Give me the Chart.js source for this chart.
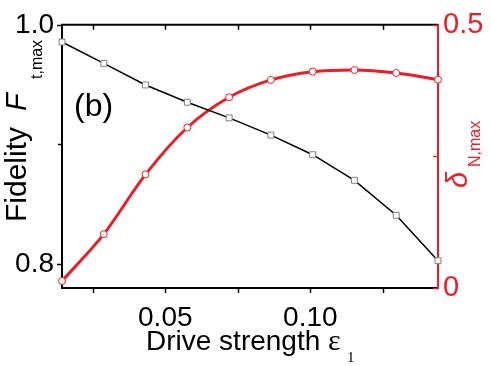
<!DOCTYPE html>
<html>
<head>
<meta charset="utf-8">
<script src="https://cdn.jsdelivr.net/npm/chart.js@4"></script>
<style>
  html, body { margin: 0; padding: 0; background: #fff; }
  #wrap { width: 491px; height: 366px; position: relative; }
</style>
</head>
<body>
<div id="wrap"><canvas id="chart"></canvas></div>
<script>
// data
const driveStrength = [0.0144, 0.0288, 0.0432, 0.0576, 0.0720, 0.0864, 0.1008, 0.1152, 0.1296, 0.1440];
const fidelity = [0.9856, 0.9678, 0.9497, 0.9353, 0.9222, 0.9078, 0.8914, 0.8700, 0.8408, 0.8028];
const deltaN = [0.0133, 0.1023, 0.2159, 0.3049, 0.3623, 0.3953, 0.4110, 0.4142, 0.4085, 0.3958];

// ticks
const xTicks = [0.05, 0.10];
const xTickLabels = ['0.05', '0.10'];
const xMinorTicks = [0.025, 0.075, 0.125];
const fTicks = [0.8, 1.0];
const fTickLabels = ['0.8', '1.0'];
const fMinorTicks = [0.9];
const dTicks = [0, 0.5];
const dTickLabels = ['0', '0.5'];
const dMinorTicks = [0.25];

const RED = '#ee1c24';
const SANS = '"Liberation Sans", Arial, sans-serif';
const SERIF = '"Liberation Serif", "Times New Roman", serif';

Chart.defaults.font.family = SANS;
Chart.defaults.color = '#000';

const toPoints = (ys) => driveStrength.map((x, i) => ({ x: x, y: ys[i] }));

// tick marks, top frame line, axis titles and panel label
const decorPlugin = {
  id: 'decor',
  afterDraw: (chart) => {
    const ctx = chart.ctx;
    const { left, right, top, bottom } = chart.chartArea;
    const sx = chart.scales.x, sy = chart.scales.y, sy2 = chart.scales.y2;
    ctx.save();

    // top frame
    ctx.strokeStyle = '#000';
    ctx.lineWidth = 2;
    ctx.beginPath();
    ctx.moveTo(left - 1, top);
    ctx.lineTo(right, top);
    ctx.stroke();

    ctx.lineWidth = 1.5;
    // x ticks: bottom outward, top inward
    xTicks.concat(xMinorTicks).forEach(v => {
      const px = Math.round(sx.getPixelForValue(v)) + 0.5;
      ctx.beginPath();
      ctx.moveTo(px, bottom);
      ctx.lineTo(px, bottom + 5);
      ctx.moveTo(px, top);
      ctx.lineTo(px, top + 5);
      ctx.stroke();
    });
    // left ticks outward
    fTicks.forEach(v => {
      const py = Math.round(sy.getPixelForValue(v)) + 0.5;
      ctx.beginPath();
      ctx.moveTo(left, py);
      ctx.lineTo(left - 5, py);
      ctx.stroke();
    });
    fMinorTicks.forEach(v => {
      const py = Math.round(sy.getPixelForValue(v)) + 0.5;
      ctx.beginPath();
      ctx.moveTo(left, py);
      ctx.lineTo(left - 4, py);
      ctx.stroke();
    });
    // right ticks inward, red
    ctx.strokeStyle = RED;
    dTicks.concat(dMinorTicks).forEach(v => {
      const py = Math.round(sy2.getPixelForValue(v)) + 0.5;
      ctx.beginPath();
      ctx.moveTo(right + 1, py);
      ctx.lineTo(right - 5, py);
      ctx.stroke();
    });

    ctx.textAlign = 'left';
    ctx.textBaseline = 'alphabetic';

    // left title, rotated
    ctx.fillStyle = '#000';
    ctx.save();
    ctx.translate(26, 222);
    ctx.rotate(-Math.PI / 2);
    ctx.font = '30px ' + SANS;
    ctx.fillText('Fidelity', 0, 0);
    ctx.font = 'italic 29px ' + SANS;
    ctx.fillText('F', 111, 0);
    ctx.font = '16px ' + SANS;
    ctx.fillText('t,max', 143, 16);
    ctx.restore();

    // right title, rotated
    ctx.fillStyle = RED;
    ctx.save();
    ctx.translate(467, 188);
    ctx.rotate(-Math.PI / 2);
    ctx.font = 'italic 29px ' + SANS;
    ctx.fillText('δ', 0, 0);
    ctx.font = '16px ' + SANS;
    ctx.fillText('N,max', 21, 13);
    ctx.restore();

    // bottom title
    ctx.fillStyle = '#000';
    ctx.font = '28px ' + SANS;
    ctx.fillText('Drive strength', 146, 350);
    ctx.font = '30px ' + SERIF;
    ctx.fillText('ε', 328, 350);
    ctx.font = '15px ' + SERIF;
    ctx.fillText('1', 347, 362);

    // panel label
    ctx.font = '32px ' + SANS;
    ctx.fillText('(b)', 74, 116);

    ctx.restore();
  }
};

new Chart(document.getElementById('chart'), {
  type: 'line',
  data: {
    datasets: [{
      data: toPoints(fidelity),
      yAxisID: 'y',
      borderColor: '#000',
      borderWidth: 1.5,
      pointStyle: 'rect',
      pointRadius: 4.2,
      pointBorderWidth: 1,
      pointBorderColor: '#808080',
      pointBackgroundColor: '#fff',
      tension: 0,
      clip: false
    }, {
      data: toPoints(deltaN),
      yAxisID: 'y2',
      borderColor: RED,
      borderWidth: 3,
      pointStyle: 'circle',
      pointRadius: 3.5,
      pointBorderWidth: 1,
      pointBorderColor: RED,
      pointBackgroundColor: '#fff',
      cubicInterpolationMode: 'monotone',
      clip: false
    }]
  },
  options: {
    responsive: true,
    maintainAspectRatio: false,
    animation: false,
    layout: { padding: { top: 24, left: 0, right: 0, bottom: 0 } },
    plugins: {
      legend: { display: false },
      tooltip: { enabled: false }
    },
    scales: {
      x: {
        type: 'linear',
        min: 0.0144,
        max: 0.1440,
        grid: { display: false, drawTicks: false },
        border: { display: true, color: '#000', width: 2 },
        afterBuildTicks: (scale) => { scale.ticks = xTicks.map(v => ({ value: v })); },
        afterFit: (scale) => { scale.height = 78; },
        ticks: {
          padding: 13,
          maxRotation: 0,
          autoSkip: false,
          font: { size: 28 },
          color: '#000',
          callback: (v) => xTickLabels[xTicks.indexOf(v)]
        }
      },
      y: {
        position: 'left',
        min: 0.78,
        max: 1.0,
        grid: { display: false, drawTicks: false },
        border: { display: true, color: '#000', width: 2 },
        afterBuildTicks: (scale) => { scale.ticks = fTicks.map(v => ({ value: v })); },
        afterFit: (scale) => { scale.width = 62; },
        ticks: {
          padding: 8,
          font: { size: 28 },
          color: '#000',
          callback: (v) => fTickLabels[fTicks.indexOf(v)]
        }
      },
      y2: {
        position: 'right',
        min: 0,
        max: 0.5,
        grid: { display: false, drawTicks: false },
        border: { display: true, color: RED, width: 2 },
        afterBuildTicks: (scale) => { scale.ticks = dTicks.map(v => ({ value: v })); },
        afterFit: (scale) => { scale.width = 53; },
        ticks: {
          padding: 5,
          font: { size: 29 },
          color: RED,
          callback: (v) => dTickLabels[dTicks.indexOf(v)]
        }
      }
    }
  },
  plugins: [decorPlugin]
});
</script>
</body>
</html>
